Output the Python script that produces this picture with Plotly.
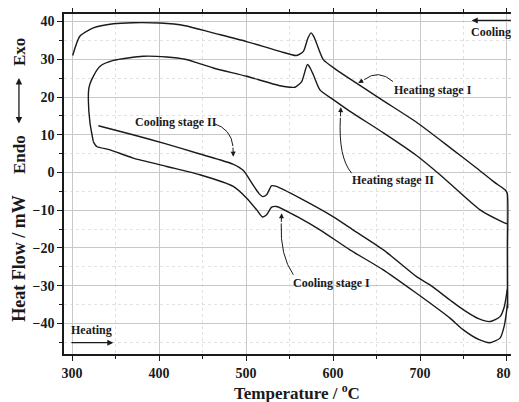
import plotly.graph_objects as go

# ---- data ----
heat1_T = [300.8, 309, 324.5, 347.5, 370, 401, 430, 462, 500.8, 539, 558, 566, 571, 574.7, 578, 581, 588.9, 604, 619.5, 658, 696, 734.5, 765, 785, 797.7, 800.3, 800.6, 800.8]
heat1_Y = [31.0, 36.1, 38.3, 39.4, 39.7, 39.6, 38.9, 37.0, 34.7, 32.1, 31.0, 32.1, 35.5, 37.0, 36.0, 34.3, 29.9, 27.2, 24.8, 19.0, 13.3, 6.6, 1.2, -2.5, -4.6, -5.5, -20.0, -36.0]

heat2_T = [324.5, 320.7, 318.8, 319.5, 322.6, 332, 347.5, 382, 408.8, 430, 462.4, 500.8, 539, 556.3, 564, 570.5, 573.5, 577.4, 585, 600.3, 619.5, 658, 696, 723, 769, 794, 800.3]
heat2_Y = [8.2, 13.1, 19.3, 22.5, 24.6, 28.1, 29.7, 30.8, 30.6, 30.0, 27.7, 25.5, 23.0, 22.6, 24.1, 28.6, 27.8, 25.9, 21.9, 19.3, 16.2, 10.5, 4.5, -0.6, -9.9, -13.0, -13.6]

cool2_T = [330.3, 370, 408, 447, 485, 497, 508, 515, 519, 523.7, 529.5, 535, 562, 600, 623, 658, 696, 711.5, 734.5, 750, 768, 780.5, 792, 797, 800.3]
cool2_Y = [12.4, 10.0, 7.6, 4.9, 2.2, 0.5, -3.3, -5.6, -6.4, -5.9, -3.5, -3.7, -6.8, -11.7, -15.2, -20.5, -27.6, -29.8, -33.8, -36.4, -38.8, -39.5, -38.2, -35.5, -31.0]

cool1_T = [324.5, 328.4, 343.7, 370.5, 408.8, 447, 485.4, 500.8, 512.3, 519, 523.7, 529.5, 535, 562, 585, 619.5, 657.8, 696, 711.5, 734.5, 749.8, 768, 780.5, 792, 797, 800.5]
cool1_Y = [8.2, 6.9, 6.0, 3.8, 1.6, -0.6, -3.7, -6.8, -9.9, -11.8, -11.2, -9.2, -9.0, -12.1, -15.2, -20.5, -25.8, -32.0, -34.6, -38.6, -41.7, -44.3, -45.1, -43.9, -40.5, -35.0]

x_ticks = [300, 400, 500, 600, 700, 800]
y_ticks = [-40, -30, -20, -10, 0, 10, 20, 30, 40]

LINE = dict(color="#1a1a1a", width=1.4, shape="spline", smoothing=0.6)
FONT = "Liberation Serif"

fig = go.Figure()
for T, Y in [(heat1_T, heat1_Y), (heat2_T, heat2_Y), (cool2_T, cool2_Y), (cool1_T, cool1_Y)]:
    fig.add_trace(go.Scatter(x=T, y=Y, mode="lines", line=LINE, showlegend=False, hoverinfo="skip"))

ann_font = dict(family=FONT, size=12, color="#1a1a1a")
title_font = dict(family=FONT, size=17, color="#1a1a1a")
annotations = [
    dict(x=782, y=37.1, text="<b>Cooling</b>", showarrow=False, font=ann_font),
    dict(x=759.5, y=40.3, ax=807.3, ay=40.3, axref="x", ayref="y", text="", showarrow=True,
         arrowhead=2, arrowsize=1, arrowwidth=1.2, arrowcolor="#1a1a1a"),
    dict(x=322.6, y=-41.7, text="<b>Heating</b>", showarrow=False, font=ann_font),
    dict(x=347.5, y=-45.1, ax=297.7, ay=-45.1, axref="x", ayref="y", text="", showarrow=True,
         arrowhead=2, arrowsize=1, arrowwidth=1.2, arrowcolor="#1a1a1a"),
    dict(x=715.3, y=21.8, text="<b>Heating stage I</b>", showarrow=False, font=ann_font),
    dict(x=669.3, y=-2.1, text="<b>Heating stage II</b>", showarrow=False, font=ann_font),
    dict(x=419.5, y=13.4, text="<b>Cooling stage II</b>", showarrow=False, font=ann_font),
    dict(x=598.5, y=-29.2, text="<b>Cooling stage I</b>", showarrow=False, font=ann_font),
    # arrowheads at leader ends
    dict(x=629, y=23.7, ax=636, ay=24.6, axref="x", ayref="y", text="", showarrow=True,
         arrowhead=2, arrowsize=1, arrowwidth=1, arrowcolor="#1a1a1a"),
    dict(x=609, y=17.3, ax=608.5, ay=14.5, axref="x", ayref="y", text="", showarrow=True,
         arrowhead=2, arrowsize=1, arrowwidth=1, arrowcolor="#1a1a1a"),
    dict(x=485.4, y=4.2, ax=485.0, ay=7.0, axref="x", ayref="y", text="", showarrow=True,
         arrowhead=2, arrowsize=1, arrowwidth=1, arrowcolor="#1a1a1a"),
    dict(x=541, y=-10.8, ax=540.5, ay=-13.5, axref="x", ayref="y", text="", showarrow=True,
         arrowhead=2, arrowsize=1, arrowwidth=1, arrowcolor="#1a1a1a"),
    # axis titles
    dict(x=-0.099, y=0.28, xref="paper", yref="paper", xanchor="center", yanchor="middle",
         text="<b>Heat Flow / mW</b>", textangle=-90, showarrow=False,
         font=dict(family=FONT, size=18, color="#1a1a1a")),
    dict(x=-0.099, y=0.588, xref="paper", yref="paper", xanchor="center", yanchor="middle",
         text="<b>Endo</b>", textangle=-90, showarrow=False, font=title_font),
    dict(x=-0.099, y=0.888, xref="paper", yref="paper", xanchor="center", yanchor="middle",
         text="<b>Exo</b>", textangle=-90, showarrow=False, font=title_font),
    dict(x=-0.099, y=0.812, xref="paper", yref="paper", ax=0, ay=47, text="", showarrow=True,
         arrowhead=2, arrowside="end+start", arrowsize=1, arrowwidth=1.3, arrowcolor="#1a1a1a"),
    dict(x=0.511, y=-0.112, xref="paper", yref="paper", xanchor="center", yanchor="middle",
         text="<b>Temperature / <sup>o</sup>C</b>", showarrow=False, font=title_font),
]

shapes = [
    dict(type="path", xref="x", yref="y", path="M 669,24.1 Q 652,27.5 636,24.6",
         line=dict(color="#1a1a1a", width=1)),
    dict(type="path", xref="x", yref="y", path="M 621.5,-0.2 Q 606,4 608.5,14.5",
         line=dict(color="#1a1a1a", width=1)),
    dict(type="path", xref="x", yref="y", path="M 463,13.0 Q 483,11.5 485,7.0",
         line=dict(color="#1a1a1a", width=1)),
    dict(type="path", xref="x", yref="y", path="M 554.4,-27.1 Q 539,-22 540.5,-13.5",
         line=dict(color="#1a1a1a", width=1)),
]

axis_common = dict(
    showline=True, linecolor="#1a1a1a", linewidth=1.5,
    ticks="outside", ticklen=5, tickwidth=1, tickcolor="#1a1a1a",
    showgrid=True, gridcolor="#c8c8c8", gridwidth=1,
    zeroline=False, automargin=False,
    tickfont=dict(family=FONT, size=14, color="#1a1a1a", weight="bold"),
)

# The page body has an 8px default margin, so the figure is sized to end at the window edge.
fig.update_layout(
    width=511, height=394,
    margin=dict(l=56, r=0, t=6, b=48, autoexpand=False),
    paper_bgcolor="white", plot_bgcolor="white",
    showlegend=False,
    annotations=annotations,
    shapes=shapes,
    xaxis=dict(range=[290.8, 813.8], tickvals=x_ticks, mirror="ticks",
               minor=dict(dtick=50, tick0=300, ticks="outside", ticklen=3, showgrid=True,
                          gridcolor="#e2e2e2", griddash="dot"),
               **axis_common),
    yaxis=dict(range=[-48.1, 42.0], tickvals=y_ticks, mirror=False,
               minor=dict(dtick=5, tick0=0, ticks="outside", ticklen=3, showgrid=True,
                          gridcolor="#e2e2e2", griddash="dot"),
               **axis_common),
)

fig.write_html("out.html")
